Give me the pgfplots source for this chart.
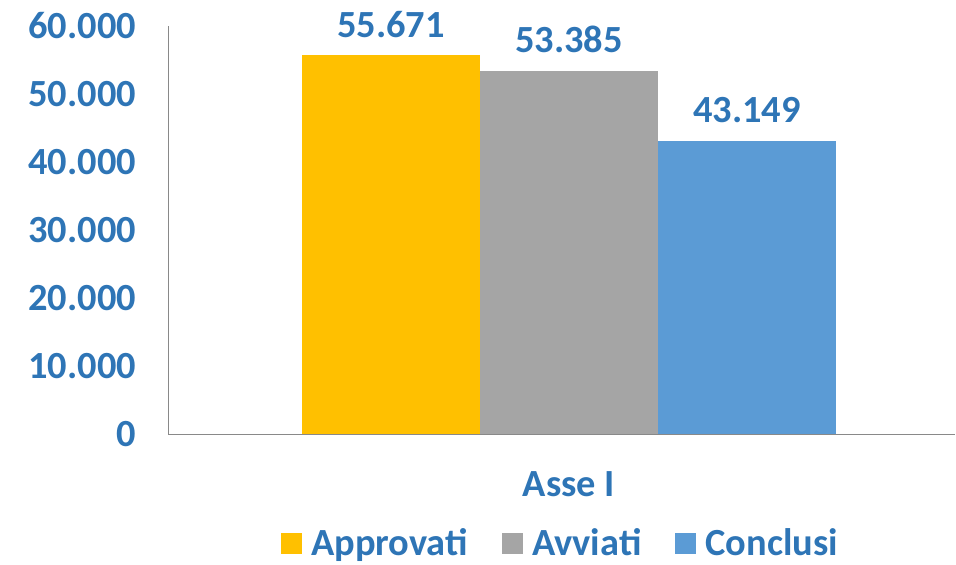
\documentclass[border=0pt]{standalone}
\usepackage{pgfplots}
\pgfplotsset{compat=1.18}
\usepackage{fontspec}
\setmainfont{Carlito}
\definecolor{cYellow}{HTML}{FFC000}
\definecolor{cGray}{HTML}{A5A5A5}
\definecolor{cBlue}{HTML}{5B9BD5}
\definecolor{cText}{HTML}{2E75B6}
\definecolor{cAxis}{HTML}{898989}
\newcommand{\lblfont}{\fontsize{19.2}{22}\selectfont\bfseries}
\begin{document}
\begin{tikzpicture}
\path[use as bounding box] (0,0) rectangle (478pt,282pt);
\begin{axis}[
  at={(84pt,65pt)}, anchor=south west,
  scale only axis,
  width=393.5pt, height=204pt,
  xmin=-2.2528, xmax=2.1685,
  ymin=0, ymax=60000,
  ytick={0,10000,...,60000},
  xtick={0}, xticklabels={Asse I},
  axis x line*=bottom, axis y line*=left,
  axis line style={draw=cAxis, line width=0.5pt},
  major tick length=0pt,
  /pgf/number format/.cd, 1000 sep={.}, assume math mode=true,
  /pgfplots/.cd,
  scaled y ticks=false,
  ticklabel style={font=\lblfont, text=cText},
  yticklabel style={xshift=-12.5pt},
  xticklabel style={yshift=-15.5pt},
  nodes near coords,
  every node near coord/.append style={font=\lblfont, text=cText, yshift=5.5pt},
  legend style={at={(0.5,-0.2672)}, anchor=center, draw=none, fill=none,
    legend columns=-1, font=\lblfont, text=cText, inner sep=1pt,
    /tikz/every even column/.append style={column sep=15pt}},
  legend image code/.code={\fill[#1] (0pt,-5.25pt) rectangle (10.5pt,5.25pt); \path (13pt,0pt);},
]
\addplot[ybar, bar width=1, bar shift=0pt, fill=cYellow, draw=none] coordinates {(-1,55671)};
\addlegendentry{Approvati}
\addplot[ybar, bar width=1, bar shift=0pt, fill=cGray, draw=none] coordinates {(0,53385)};
\addlegendentry{Avviati}
\addplot[ybar, bar width=1, bar shift=0pt, fill=cBlue, draw=none] coordinates {(1,43149)};
\addlegendentry{Conclusi}
\end{axis}
\end{tikzpicture}
\end{document}
